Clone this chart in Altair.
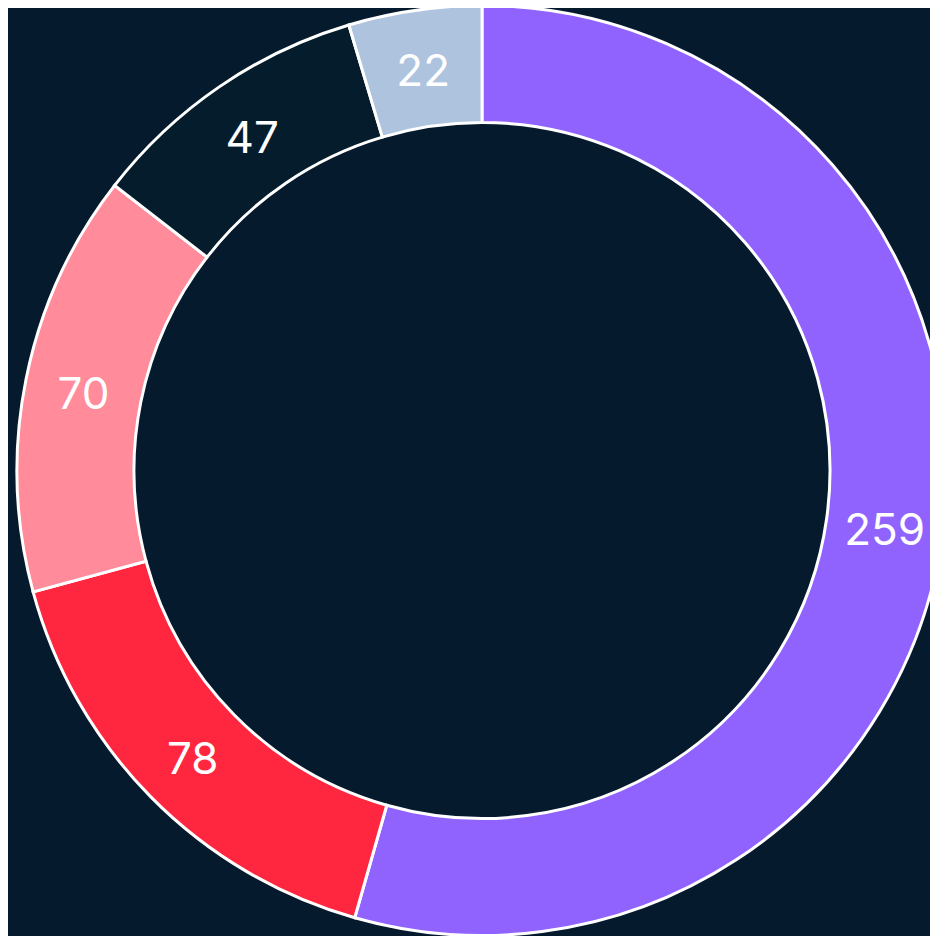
import altair as alt
import pandas as pd

categories = ["A", "B", "C", "D", "E"]
values = [259, 78, 70, 47, 22]
colors = ["#9063FF", "#FF263F", "#FF8B9B", "#051C2C", "#ADC3DE"]
order = [1, 2, 3, 4, 5]

df = pd.DataFrame({"cat": categories, "value": values, "ord": order})

CX, CY = 474, 462.5

base = alt.Chart(df).encode(
    theta=alt.Theta("value:Q", stack=True),
    order=alt.Order("ord:Q", sort="ascending"),
    x=alt.value(CX),
    y=alt.value(CY),
)

arcs = base.mark_arc(radius=465, innerRadius=348, stroke="white", strokeWidth=3).encode(
    color=alt.Color("cat:N", scale=alt.Scale(domain=categories, range=colors), legend=None)
)

labels = base.mark_text(radius=406.5, font="Inter", fontSize=44, fill="white",
                        align="center", baseline="middle", dy=5).encode(
    text=alt.Text("value:Q")
)

chart = (arcs + labels).properties(
    width=922, height=928, padding=0,
    autosize=alt.AutoSizeParams(type="none"),
    background="#061A2D",
).configure_view(stroke=None)

chart.save("out.html", embed_options={"renderer": "svg", "actions": False})
